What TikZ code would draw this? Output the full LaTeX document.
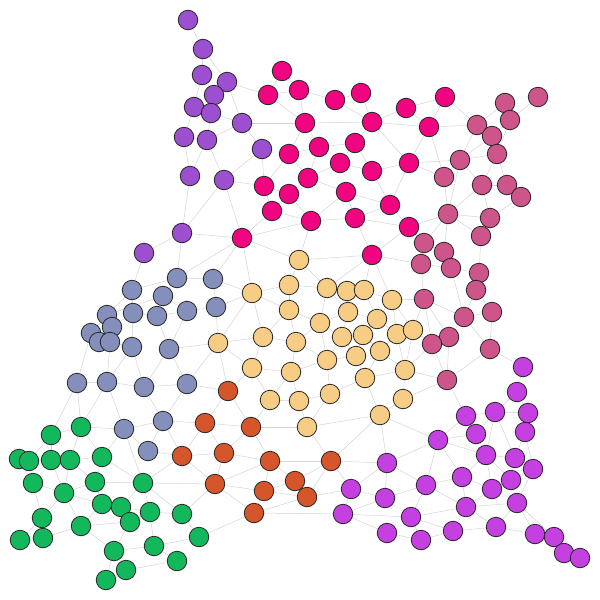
\documentclass[tikz,border=0pt]{standalone}
\usepackage{tikz}
\usetikzlibrary{backgrounds}

\definecolor{cpurp}{HTML}{9C4FCF}
\definecolor{cmag}{HTML}{F0047F}
\definecolor{cpink}{HTML}{CE558A}
\definecolor{cslate}{HTML}{8490BB}
\definecolor{cpeach}{HTML}{F7CD85}
\definecolor{crust}{HTML}{D6562B}
\definecolor{cgreen}{HTML}{14B85C}
\definecolor{cviolet}{HTML}{C440E0}

\begin{document}
\begin{tikzpicture}[
    x=1pt, y=-1pt,
    vtx/.style={circle, draw=black!85, line width=0.8pt, minimum size=19.5pt, inner sep=0pt},
    edge/.style={draw=black!17, line width=0.5pt}
]
    \useasboundingbox (0,0) rectangle (600,600);

    \foreach \x/\y [count=\i] in {188/20, 203/49, 202/75, 227/82, 214/95, 194/107, 211/113, 242/123,
        184/137, 207/140, 262/149, 190/176, 224/180, 182/233, 144/253}
        \node[vtx, fill=cpurp] (p\i) at (\x,\y) {};

    \foreach \x/\y [count=\i] in {282/71, 268/95, 299/90, 335/100, 361/93, 305/123, 372/122, 406/108,
        445/97, 429/127, 289/154, 319/147, 355/143, 340/163, 372/171, 409/163, 308/178, 264/186,
        289/194, 346/192, 390/205, 272/211, 311/221, 355/218, 409/227, 242/238, 372/255}
        \node[vtx, fill=cmag] (m\i) at (\x,\y) {};

    \foreach \x/\y [count=\i] in {505/103, 538/97, 510/120, 477/125, 492/136, 497/154, 460/160, 444/177,
        482/185, 507/185, 521/197, 448/214, 490/218, 481/236, 424/243, 444/252, 421/264, 451/268,
        479/273, 476/290, 424/299, 464/317, 492/312, 449/337, 432/344, 490/349, 447/380}
        \node[vtx, fill=cpink] (k\i) at (\x,\y) {};

    \foreach \x/\y [count=\i] in {177/278, 213/279, 132/290, 163/296, 187/311, 216/307, 133/313, 157/316,
        107/315, 112/327, 91/333, 99/342, 110/342, 132/347, 169/349, 77/383, 107/382, 144/387,
        187/384, 124/429, 163/421, 148/451}
        \node[vtx, fill=cslate] (b\i) at (\x,\y) {};

    \foreach \x/\y [count=\i] in {299/260, 289/285, 252/293, 327/288, 347/291, 364/290, 289/310, 392/300,
        348/312, 377/319, 320/323, 263/337, 296/342, 342/337, 363/335, 397/334, 413/330, 218/343,
        380/351, 356/356, 327/360, 252/368, 291/372, 365/378, 405/370, 270/400, 299/401, 330/394,
        403/399, 380/415, 307/427}
        \node[vtx, fill=cpeach] (o\i) at (\x,\y) {};

    \foreach \x/\y [count=\i] in {228/391, 205/423, 251/427, 182/456, 224/453, 270/461, 331/461, 215/484,
        264/491, 295/481, 307/497, 254/513}
        \node[vtx, fill=crust] (r\i) at (\x,\y) {};

    \foreach \x/\y [count=\i] in {51/435, 81/427, 19/459, 29/461, 51/460, 70/460, 102/457, 33/483,
        64/493, 95/482, 143/483, 102/504, 121/507, 130/522, 150/512, 182/514, 42/518, 81/526,
        20/540, 43/538, 199/537, 114/551, 154/546, 177/561, 126/570, 106/580}
        \node[vtx, fill=cgreen] (g\i) at (\x,\y) {};

    \foreach \x/\y [count=\i] in {523/367, 517/392, 387/463, 351/489, 385/498, 343/514, 387/533, 466/416,
        495/412, 528/413, 525/432, 476/434, 438/440, 486/455, 515/458, 533/469, 462/477, 511/480,
        492/489, 426/485, 517/503, 466/507, 411/517, 453/531, 496/527, 421/540, 535/534, 554/537,
        564/553, 580/558}
        \node[vtx, fill=cviolet] (v\i) at (\x,\y) {};

    \begin{scope}[on background layer]
        \foreach \a/\b in {p1/p2, p2/p3, p2/p4, p3/p6, p3/p5, p4/p5, p4/p8, p4/m2, p5/p7, p6/p7,
            p6/p9, p7/p8, p7/p10, p8/p10, p8/p11, p8/m6, p9/p10, p9/p12, p10/p12, p10/p13, p11/p13,
            p11/m18, p13/m18, p12/p14, p13/p14, p13/m26, p14/p15, p14/m26, p14/b1, p15/b3}
            \draw[edge] (\a) -- (\b);
        \foreach \a/\b in {m1/m2, m1/m3, m2/m3, m2/m6, m3/m6, m3/m4, m4/m5, m4/m7, m5/m7, m6/m7,
            m7/m8, m7/m10, m7/m13, m7/m16, m8/m9, m8/m10, m9/m10, m9/k4, m10/m16, m10/k8, m10/k4,
            m6/m11, m6/m12, m11/m12, m12/m13, m13/m14, m13/m15, m12/m17, m11/m17, m11/m18, m14/m17,
            m14/m15, m15/m16, m15/m21, m17/m19, m17/m20, m18/m19, m18/m22, m19/m22, m19/m23, m20/m23,
            m20/m24, m20/m21, m21/m24, m21/m25, m16/m21, m16/k7, m16/k8, m22/m23, m22/m26, m23/m24,
            m23/m26, m23/o1, m24/m27, m25/m27, m24/m25, m26/o1, m26/o3, m26/b2, m26/b1, m27/o1,
            m27/o4, m27/o6, m27/o8, m27/k17, m25/k12, m25/k15}
            \draw[edge] (\a) -- (\b);
        \foreach \a/\b in {k1/k3, k2/k3, k1/k4, k3/k5, k4/k5, k4/k7, k5/k6, k5/k7, k3/k6, k6/k7,
            k6/k9, k6/k10, k7/k8, k7/k9, k7/k12, k8/k12, k9/k10, k10/k11, k9/k12, k9/k13, k11/k13,
            k12/k13, k12/k14, k12/k15, k12/k16, k13/k14, k14/k19, k15/k16, k15/k17, k16/k18, k17/k18,
            k18/k19, k19/k20, k18/k22, k17/k21, k20/k22, k20/k23, k21/k22, k22/k23, k21/k24, k21/k25,
            k22/k24, k24/k25, k22/k26, k23/k26, k24/k27, k25/k27, k26/k27, k21/o8, k21/o17, k25/o17,
            k25/o25, k27/o25, k27/o29, k27/v8, k26/v1}
            \draw[edge] (\a) -- (\b);
        \foreach \a/\b in {b1/b2, b1/b3, b1/b4, b2/b6, b3/b7, b3/b9, b4/b9, b4/b5, b4/b8, b5/b6,
            b5/b8, b5/b15, b7/b8, b7/b10, b7/b14, b8/b15, b9/b10, b9/b11, b10/b13, b11/b12, b12/b13,
            b11/b16, b13/b17, b13/b14, b14/b17, b14/b18, b15/b18, b15/b19, b16/b17, b17/b18, b18/b19,
            b15/o18, b19/o18, b19/r1, b2/o3, b6/o3, b6/o18, b16/g1, b16/g2, b17/g2, b17/b20, b18/b21,
            b19/b21, b20/b21, b20/b22, b21/b22, b21/r2, b22/r4, b21/r4, b20/g2, b20/g7, b20/g11}
            \draw[edge] (\a) -- (\b);
        \foreach \a/\b in {g1/g2, g1/g4, g1/g5, g2/g6, g2/g7, g3/g4, g3/g8, g4/g5, g4/g8, g5/g6,
            g5/g9, g6/g9, g6/g10, g6/g7, g7/g10, g7/g11, g8/g9, g8/g17, g9/g10, g9/g12, g9/g17, g9/g18,
            g10/g11, g10/g12, g11/g13, g11/g15, g11/g16, g11/r4, g11/r8, g12/g13, g12/g18, g13/g14,
            g13/g15, g14/g15, g14/g22, g14/g18, g15/g16, g15/g23, g16/g21, g16/r8, g17/g20, g17/g19,
            g18/g20, g19/g20, g18/g22, g22/g23, g22/g25, g22/g26, g23/g24, g23/g21, g25/g26, g24/g25,
            g21/r12}
            \draw[edge] (\a) -- (\b);
        \foreach \a/\b in {r1/r2, r1/r3, r1/o18, r1/o22, r2/r3, r2/r4, r2/r5, r3/r5, r3/r6, r3/o26,
            r3/o31, r4/r5, r4/r8, r5/r6, r5/r8, r6/r8, r6/r7, r6/r9, r6/r10, r8/r9, r8/r12, r9/r10,
            r9/r11, r9/r12, r10/r11, r10/r7, r11/r7, r11/r12, r12/v6, r7/v3, r7/v4, r7/o31, r7/o30,
            r11/v4}
            \draw[edge] (\a) -- (\b);
        \foreach \a/\b in {o1/o2, o1/o4, o2/o3, o2/o4, o2/o7, o3/o7, o3/o12, o3/o18, o4/o5, o4/o11,
            o4/o9, o5/o6, o5/o9, o6/o8, o6/o10, o7/o11, o7/o12, o7/o13, o8/o10, o8/o16, o8/o17, o9/o10,
            o9/o14, o9/o11, o10/o15, o10/o16, o11/o13, o11/o14, o11/o21, o12/o13, o12/o18, o12/o22,
            o13/o21, o13/o23, o14/o15, o14/o20, o14/o21, o15/o19, o15/o20, o16/o17, o16/o19, o16/o25,
            o17/o25, o19/o24, o19/o25, o20/o21, o20/o24, o21/o23, o21/o28, o22/o23, o22/o26, o23/o26,
            o23/o27, o26/o27, o27/o28, o27/o31, o28/o31, o24/o28, o24/o30, o24/o25, o25/o29, o29/o30,
            o30/o31, o30/v3, o30/v13, o18/o22}
            \draw[edge] (\a) -- (\b);
        \foreach \a/\b in {v1/v2, v2/v9, v2/v10, v3/v4, v3/v5, v3/v13, v3/v20, v4/v5, v4/v6, v5/v6,
            v5/v20, v6/v7, v6/v23, v7/v26, v8/v12, v8/v13, v8/v9, v9/v10, v9/v12, v9/v14, v9/v15,
            v10/v11, v11/v15, v11/v16, v12/v13, v12/v14, v13/v14, v13/v17, v13/v20, v14/v15, v14/v17,
            v14/v18, v14/v19, v15/v16, v15/v18, v16/v18, v16/v21, v17/v19, v17/v20, v17/v22, v18/v19,
            v18/v21, v19/v22, v20/v22, v20/v23, v21/v22, v21/v25, v21/v27, v21/v28, v22/v23, v22/v24,
            v22/v25, v23/v24, v23/v26, v24/v25, v24/v26, v25/v27, v27/v28, v28/v29, v29/v30}
            \draw[edge] (\a) -- (\b);
    \end{scope}
\end{tikzpicture}
\end{document}
